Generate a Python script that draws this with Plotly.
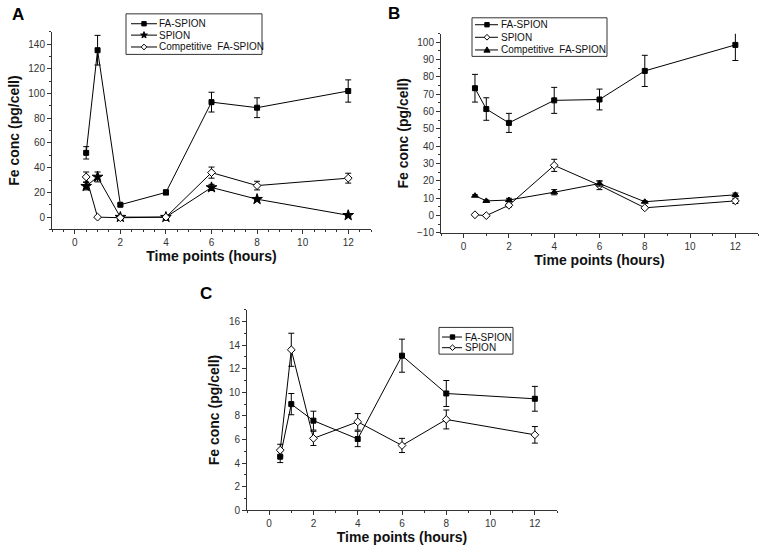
import math
import plotly.graph_objects as go

# ---------------- data ----------------
time_pts = [0.5, 1, 2, 4, 6, 8, 12]

# Panel A
a_fa = [52, 135, 10, 20, 93, 88.5, 102]
a_fa_err = [5, 12, 1, 2, 8, 8, 9]
a_spion = [25, 32.5, 0, 0, 24, 14.5, 1.5]
a_spion_err = [3, 4, 0.5, 0.5, 2.5, 1, 1]
a_comp = [32.5, 0, -0.5, 0, 36, 25.5, 31.5]
a_comp_err = [4, 0.5, 0.5, 0.5, 4.5, 3.5, 4]

# Panel B
b_fa = [73.5, 61.5, 53.5, 66.5, 67, 83.5, 98.5]
b_fa_err = [8, 6.5, 5.5, 7.5, 6, 9, 9]
b_spion = [0.5, 0, 6, 29, 17.5, 4.5, 8.5]
b_spion_err = [0.5, 0.5, 1, 3.5, 2.5, 0.5, 1.5]
b_comp = [11.5, 8.5, 9, 13.5, 18.5, 8, 12]
b_comp_err = [0.5, 0.5, 1, 1.5, 1.5, 0.5, 1]

# Panel C
c_fa = [4.55, 9.0, 7.6, 6.05, 13.1, 9.9, 9.45]
c_fa_err = [0.5, 0.9, 0.8, 0.65, 1.4, 1.1, 1.05]
c_spion = [5.1, 13.6, 6.1, 7.5, 5.5, 7.7, 6.4]
c_spion_err = [0.5, 1.4, 0.6, 0.7, 0.6, 0.8, 0.7]

x_title = "Time points (hours)"
y_title = "Fe conc (pg/cell)"
panel_labels = ["A", "B", "C"]

FONT = "Liberation Sans, Arial, sans-serif"
W, H = 766, 555

fig = go.Figure()
legend_entries = {"A": [], "B": [], "C": []}

SIZES = {"square": 5, "star": 8, "diamond": 6, "triangle-up": 6}


def add(panel, y, err, name, symbol, filled, xa, ya):
    fig.add_trace(go.Scatter(
        x=time_pts, y=y, name=name, mode="lines+markers",
        xaxis=xa, yaxis=ya, showlegend=False,
        line=dict(color="black", width=1),
        marker=dict(symbol=symbol, size=SIZES[symbol],
                    color="black" if filled else "white",
                    line=dict(color="black", width=1)),
        error_y=dict(type="data", array=err, visible=True,
                     color="black", thickness=1, width=3),
    ))
    legend_entries[panel].append((name, symbol, filled))


# Panel A
add("A", a_fa, a_fa_err, "FA-SPION", "square", True, "x", "y")
add("A", a_spion, a_spion_err, "SPION", "star", True, "x", "y")
add("A", a_comp, a_comp_err, "Competitive  FA-SPION", "diamond", False, "x", "y")
# Panel B
add("B", b_fa, b_fa_err, "FA-SPION", "square", True, "x2", "y2")
add("B", b_spion, b_spion_err, "SPION", "diamond", False, "x2", "y2")
add("B", b_comp, b_comp_err, "Competitive  FA-SPION", "triangle-up", True, "x2", "y2")
# Panel C
add("C", c_fa, c_fa_err, "FA-SPION", "square", True, "x3", "y3")
add("C", c_spion, c_spion_err, "SPION", "diamond", False, "x3", "y3")


def fx(px):
    return px / W


def fy(py):
    return 1 - py / H


def xax(domain, anchor, minor_dtick):
    return dict(domain=domain, anchor=anchor, range=[-1, 13],
                tickmode="linear", tick0=0, dtick=2,
                showline=True, linecolor="#333", linewidth=1,
                ticks="outside", ticklen=4, tickcolor="#333",
                minor=dict(tick0=0, dtick=minor_dtick, ticks="outside",
                           ticklen=2, tickcolor="#333"),
                showgrid=False, zeroline=False,
                tickfont=dict(family=FONT, size=10, color="#333"),
                title=dict(text="<b>" + x_title + "</b>", standoff=0,
                           font=dict(family=FONT, size=14, color="#111")))


def yax(domain, anchor, rng, dtick, minor_dtick):
    return dict(domain=domain, anchor=anchor, range=rng,
                tickmode="linear", tick0=0, dtick=dtick,
                showline=True, linecolor="#333", linewidth=1,
                ticks="outside", ticklen=4, tickcolor="#333",
                minor=dict(tick0=0, dtick=minor_dtick, ticks="outside",
                           ticklen=2, tickcolor="#333"),
                showgrid=False, zeroline=False,
                tickfont=dict(family=FONT, size=10, color="#333"),
                title=dict(text="<b>" + y_title + "</b>", standoff=5,
                           font=dict(family=FONT, size=14, color="#111")))


# ---------- legend boxes (drawn as layout decorations) ----------
shapes = []
annotations = []


def pth(points):
    return "M " + " L ".join(f"{fx(px):.5f},{fy(py):.5f}" for px, py in points) + " Z"


def marker_path(symbol, cx, cy, s):
    if symbol == "square":
        return pth([(cx - s, cy - s), (cx + s, cy - s), (cx + s, cy + s), (cx - s, cy + s)])
    if symbol == "diamond":
        return pth([(cx, cy - s * 1.3), (cx + s * 1.3, cy), (cx, cy + s * 1.3), (cx - s * 1.3, cy)])
    if symbol == "triangle-up":
        return pth([(cx, cy - s * 1.4), (cx + s * 1.4, cy + s), (cx - s * 1.4, cy + s)])
    if symbol == "star":
        pts = []
        for i in range(10):
            r = s * 1.6 if i % 2 == 0 else s * 0.65
            a = -math.pi / 2 + i * math.pi / 5
            pts.append((cx + r * math.cos(a), cy + r * math.sin(a)))
        return pth(pts)


def legend_box(panel, box, rows, line_x, marker_x, text_x):
    x0, y0, x1, y1 = box
    shapes.append(dict(type="rect", xref="paper", yref="paper",
                       x0=fx(x0), x1=fx(x1), y0=fy(y1), y1=fy(y0),
                       line=dict(color="#333", width=1), fillcolor="white",
                       layer="above"))
    for (name, symbol, filled), ry in zip(legend_entries[panel], rows):
        shapes.append(dict(type="line", xref="paper", yref="paper",
                           x0=fx(line_x[0]), x1=fx(line_x[1]), y0=fy(ry), y1=fy(ry),
                           line=dict(color="black", width=1), layer="above"))
        shapes.append(dict(type="path", xref="paper", yref="paper",
                           path=marker_path(symbol, marker_x, ry, 2.2),
                           fillcolor="black" if filled else "white",
                           line=dict(color="black", width=1), layer="above"))
        annotations.append(dict(text=name.replace("  ", " \u00a0"), x=fx(text_x), y=fy(ry),
                                xref="paper", yref="paper",
                                xanchor="left", yanchor="middle", showarrow=False,
                                font=dict(family=FONT, size=10, color="#111")))


legend_box("A", (126, 14, 262, 55), [24, 35.5, 47.5], (131, 157), 144, 157)
legend_box("B", (472, 18, 607, 57), [25, 37.7, 50.5], (475, 498), 487, 499)
legend_box("C", (439, 331, 513, 358), [340.7, 351.5], (442, 462), 452.5, 463)

# panel letters
for lab, (px, py) in zip(panel_labels, [(10, 15), (386, 14), (198, 297)]):
    annotations.append(dict(text="<b>" + lab + "</b>", x=fx(px), y=fy(py),
                            xref="paper", yref="paper", xanchor="left", yanchor="middle",
                            showarrow=False, font=dict(family=FONT, size=17, color="black")))

fig.update_layout(
    width=W, height=H, margin=dict(l=0, r=0, t=0, b=0),
    paper_bgcolor="white", plot_bgcolor="white",
    font=dict(family=FONT, color="#111"),
    showlegend=False,
    xaxis=xax([fx(52), fx(371)], "y", 0.5),
    yaxis=yax([fy(232), fy(32)], "x", [-10, 150], 20, 10),
    xaxis2=xax([fx(441), fx(758)], "y2", 1),
    yaxis2=yax([fy(235.5), fy(34)], "x2", [-10, 105], 10, 5),
    xaxis3=xax([fx(247), fx(557)], "y3", 1),
    yaxis3=yax([fy(516), fy(313)], "x3", [0, 17], 2, 1),
    shapes=shapes,
    annotations=annotations,
)

# remove the browser's default 8px body margin so the figure fills the window
fig.write_html("out.html", config={"displayModeBar": False},
               post_script="document.body.style.margin='0';")
